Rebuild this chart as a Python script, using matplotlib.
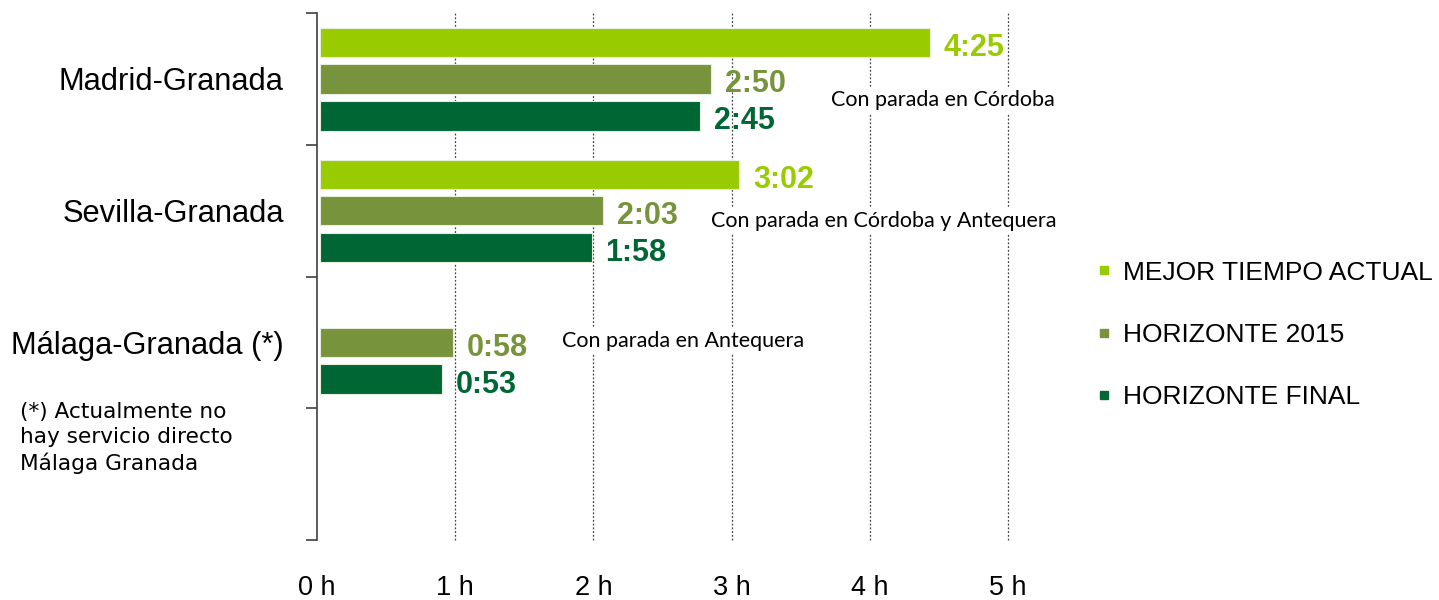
import numpy as np
import matplotlib.pyplot as plt
from matplotlib.lines import Line2D
from matplotlib import font_manager

# trayectos y tiempos (horas:minutos)
routes = ['Madrid-Granada', 'Sevilla-Granada', 'Málaga-Granada (*)']
series = ['MEJOR TIEMPO ACTUAL', 'HORIZONTE 2015', 'HORIZONTE FINAL']
times_actual = ['4:25', '3:02', None]
times_2015 = ['2:50', '2:03', '0:58']
times_final = ['2:45', '1:58', '0:53']
notes = ['Con parada en Córdoba', 'Con parada en Córdoba y Antequera',
         'Con parada en Antequera']
footnote = '(*) Actualmente no\nhay servicio directo\nMálaga Granada'
hour_ticks = [0, 1, 2, 3, 4, 5]
colors = ['#99cc00', '#77933c', '#006633']


def to_hours(t):
    if t is None:
        return np.nan
    h, m = t.split(':')
    return int(h) + int(m) / 60


names = {f.name for f in font_manager.fontManager.ttflist}
narrow = 'Liberation Sans Narrow' if 'Liberation Sans Narrow' in names else None
if narrow:
    cat_font, cat_size, tick_size = narrow, 26.5, 22
else:
    cat_font, cat_size, tick_size = 'Liberation Sans', 22.2, 19.5

fig = plt.figure(figsize=(14.39, 6.0), dpi=100)
ax = fig.add_axes([317 / 1439, 60 / 600, 691 / 1439, 527 / 600])

offsets = [-0.275, 0.0, 0.28]
bar_h = 0.225
all_times = [times_actual, times_2015, times_final]
ypos = np.arange(len(routes)) + 0.5

for k, (times, col, off) in enumerate(zip(all_times, colors, offsets)):
    vals = np.array([to_hours(t) for t in times])
    ok = ~np.isnan(vals)
    ax.barh(ypos[ok] + off, vals[ok], height=bar_h, left=0.02, color=col,
            edgecolor='#e6eedc', linewidth=0.8, zorder=3)
    for y, v, t in zip(ypos[ok] + off, vals[ok], np.array(times)[ok]):
        ax.text(v + 0.12, y + 0.04, t, color=col, fontsize=22,
                fontweight='bold', family='Liberation Sans', va='center',
                ha='left', zorder=4, clip_on=False)

# notas de paradas
note_x = [3.72, 2.85, 1.77]
note_y = [0.66, 1.58, 2.49]
for x, y, s in zip(note_x, note_y, notes):
    ax.text(x, y, s, fontsize=15.5, family='Lato', va='center', ha='left',
            zorder=5, bbox=dict(facecolor='white', edgecolor='none', pad=2))

ax.set_xlim(0, 5)
ax.set_ylim(4, 0)
for x in hour_ticks[1:]:
    ax.axvline(x, color='#444444', linestyle=(0, (1.5, 1.5)), linewidth=0.9,
               zorder=1, clip_on=False)

ax.set_xticks(hour_ticks)
ax.set_xticklabels([f'{h} h' for h in hour_ticks], family=cat_font,
                   fontsize=tick_size)
ax.tick_params(axis='x', length=0, pad=25)

ax.set_yticks([0, 1, 2, 3, 4])
ax.set_yticklabels([])
ax.tick_params(axis='y', which='major', direction='out', length=8,
               width=1.2, color='#404040')
ax.set_yticks(ypos, minor=True)
ax.set_yticklabels(routes, minor=True, family=cat_font, fontsize=cat_size)
ax.tick_params(axis='y', which='minor', length=0, pad=24)

for side in ['top', 'right', 'bottom']:
    ax.spines[side].set_visible(False)
ax.spines['left'].set_color('#404040')
ax.spines['left'].set_linewidth(1.2)

fig.text(20 / 1439, 1 - 402 / 600, footnote, fontsize=15.6,
         family='DejaVu Sans', va='top', ha='left', linespacing=1.3)

handles = [Line2D([], [], marker='s', linestyle='none', markersize=6,
                  markerfacecolor=c, markeredgecolor=c) for c in colors]
fig.legend(handles, series, loc='upper left',
           bbox_to_anchor=(1083 / 1439, 1 - 250 / 600), frameon=False,
           prop={'family': 'Liberation Sans', 'size': 19},
           handlelength=0.8, handletextpad=0.3, labelspacing=1.45,
           borderaxespad=0)

fig.savefig('out.png', dpi=100)
